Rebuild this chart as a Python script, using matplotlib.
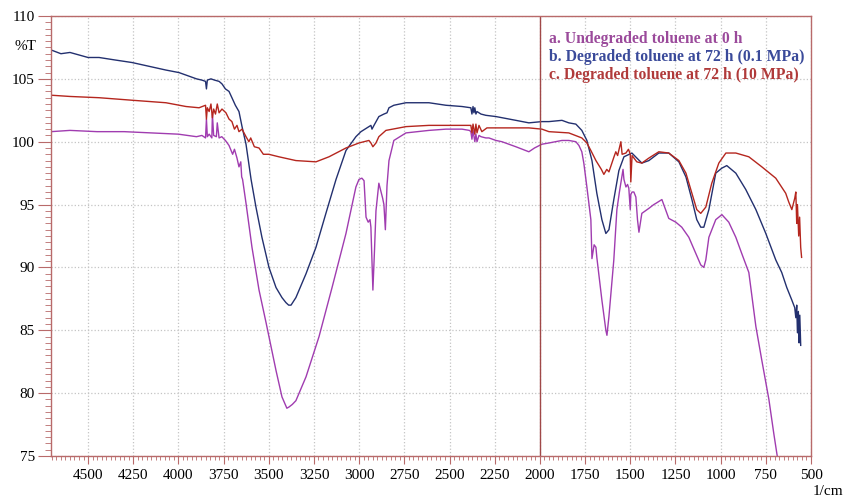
import matplotlib
matplotlib.use('Agg')
import matplotlib.pyplot as plt
from matplotlib.ticker import MultipleLocator

plt.rcParams['font.family'] = ['Liberation Serif', 'DejaVu Serif']

# a. undegraded toluene, 0 h
wn_a = [4705, 4600, 4450, 4300, 4150, 4000, 3950, 3900, 3870, 3850, 3845, 3840, 3830, 3815,
        3812, 3805, 3790, 3785, 3775, 3760, 3740, 3720, 3700, 3690, 3676, 3665, 3655, 3650,
        3645, 3626, 3593, 3554, 3515, 3460, 3427, 3400, 3388, 3370, 3350, 3294, 3222, 3150,
        3073, 3018, 3001, 2985, 2973, 2962, 2950, 2940, 2935, 2924, 2915, 2907, 2891, 2879,
        2870, 2863, 2855, 2846, 2835, 2808, 2741, 2614, 2520, 2431, 2390, 2382, 2376, 2370,
        2360, 2354, 2348, 2337, 2326, 2299, 2282, 2243, 2210, 2133, 2061, 2030, 1989, 1950,
        1878, 1840, 1801, 1784, 1768, 1757, 1740, 1718, 1712, 1700, 1690, 1685, 1657, 1635,
        1629, 1618, 1591, 1574, 1560, 1552, 1540, 1535, 1524, 1515, 1508, 1500, 1497, 1490,
        1480, 1469, 1460, 1452, 1436, 1397, 1370, 1358, 1325, 1300, 1287, 1248, 1215, 1176,
        1137, 1110, 1093, 1082, 1065, 1027, 993, 955, 916, 883, 844, 805, 772, 733, 706, 689, 670]
t_a = [100.8, 100.9, 100.8, 100.8, 100.7, 100.6, 100.5, 100.4, 100.5, 100.3, 101.8, 100.4, 100.6, 100.3,
       102.2, 100.5, 100.4, 101.5, 100.3, 100.4, 100.1, 99.7, 99.0, 99.4, 98.7, 98.0, 98.4, 97.2,
       97.0, 95.1, 91.6, 88.2, 85.6, 81.8, 79.7, 78.8, 78.9, 79.1, 79.4, 81.3, 84.5, 88.4,
       92.7, 96.4, 97.0, 97.1, 96.9, 94.0, 93.6, 93.8, 93.2, 88.2, 91.4, 94.5, 96.7, 96.0,
       95.5, 95.0, 93.0, 96.5, 98.5, 100.1, 100.7, 100.9, 101.0, 101.0, 100.9, 100.8, 100.2, 100.9,
       100.0, 100.6, 100.0, 100.5, 100.4, 100.3, 100.3, 100.1, 100.0, 99.6, 99.2, 99.5, 99.8, 99.9,
       100.1, 100.1, 100.0, 99.7, 99.2, 98.3, 96.4, 93.8, 90.7, 91.8, 91.6, 90.8, 87.4, 85.0,
       84.6, 86.1, 90.6, 94.6, 96.0, 96.7, 97.8, 97.0, 96.4, 96.6, 96.3, 94.6, 95.8, 96.0,
       96.0, 95.6, 93.8, 92.8, 94.3, 94.7, 95.0, 95.1, 95.4, 94.4, 93.9, 93.6, 93.2, 92.4,
       91.1, 90.2, 90.0, 90.6, 92.4, 93.8, 94.2, 93.6, 92.4, 91.1, 89.6, 85.3, 82.6, 79.5, 76.8, 75.2, 73.5]

# b. degraded toluene, 72 h (0.1 MPa)
wn_b = [4705, 4650, 4600, 4500, 4439, 4350, 4257, 4163, 4069, 3997, 3958, 3900, 3870, 3850,
        3845, 3840, 3820, 3800, 3775, 3759, 3740, 3720, 3704, 3685, 3665, 3648, 3626, 3598,
        3571, 3538, 3499, 3460, 3427, 3405, 3390, 3377, 3350, 3294, 3239, 3184, 3128, 3073,
        3018, 2990, 2946, 2935, 2929, 2918, 2891, 2863, 2846, 2835, 2808, 2741, 2614, 2520,
        2431, 2382, 2376, 2370, 2365, 2360, 2354, 2348, 2337, 2326, 2299, 2243, 2133, 2061,
        1989, 1950, 1878, 1840, 1801, 1768, 1740, 1712, 1685, 1657, 1635, 1618, 1591, 1563,
        1535, 1491, 1436, 1397, 1342, 1287, 1231, 1192, 1159, 1132, 1110, 1093, 1065, 1027,
        993, 966, 916, 861, 805, 750, 695, 662, 634, 606, 590, 584, 579, 575, 570, 566, 562, 557]
t_b = [107.3, 107.0, 107.1, 106.7, 106.7, 106.5, 106.3, 106.0, 105.7, 105.5, 105.3, 105.0, 104.9, 104.8,
       104.2, 104.9, 105.0, 104.9, 104.8, 104.6, 104.2, 104.0, 103.5, 102.9, 102.4, 101.2, 99.8, 97.0,
       94.8, 92.4, 90.0, 88.4, 87.6, 87.2, 87.0, 87.0, 87.6, 89.5, 91.6, 94.3, 97.0, 99.3,
       100.4, 100.8, 101.2, 101.3, 101.0, 101.3, 102.0, 102.2, 102.3, 102.7, 102.9, 103.1, 103.1, 102.9,
       102.8, 102.7, 102.2, 102.8, 102.3, 102.7, 102.2, 102.4, 102.3, 102.2, 102.1, 102.0, 101.7, 101.5,
       101.6, 101.6, 101.7, 101.5, 101.4, 100.9, 100.1, 98.5, 95.9, 93.8, 92.7, 93.0, 95.4, 97.7,
       98.8, 99.1, 98.3, 98.5, 99.1, 99.1, 98.4, 97.2, 95.4, 93.8, 93.2, 93.2, 94.6, 97.5,
       97.9, 98.1, 97.5, 96.2, 94.6, 92.7, 90.6, 89.6, 88.4, 87.4, 86.8, 86.0, 87.0, 84.8, 86.5, 84.0, 86.2, 83.8]

# c. degraded toluene, 72 h (10 MPa)
wn_c = [4705, 4600, 4439, 4257, 4069, 3958, 3886, 3850, 3845, 3840, 3830, 3820, 3812, 3805,
        3795, 3785, 3775, 3759, 3737, 3720, 3704, 3690, 3676, 3665, 3648, 3626, 3610, 3600,
        3580, 3554, 3530, 3500, 3444, 3350, 3239, 3167, 3073, 3001, 2946, 2935, 2924, 2907,
        2891, 2852, 2741, 2614, 2431, 2382, 2376, 2370, 2360, 2354, 2348, 2337, 2321, 2293,
        2243, 2061, 1989, 1950, 1840, 1768, 1740, 1718, 1690, 1660, 1646, 1630, 1618, 1590,
        1580, 1570, 1552, 1545, 1524, 1510, 1500, 1497, 1490, 1464, 1436, 1397, 1342, 1287,
        1231, 1192, 1159, 1132, 1110, 1082, 1049, 1010, 971, 916, 844, 772, 695, 640,
        623, 606, 590, 584, 579, 575, 568, 563, 557, 552]
t_c = [103.7, 103.6, 103.5, 103.3, 103.1, 102.8, 102.7, 102.9, 101.8, 102.7, 102.4, 103.0, 101.9, 102.6,
       102.2, 103.0, 102.3, 102.6, 102.3, 101.8, 101.6, 101.0, 101.3, 100.8, 101.0, 100.4, 100.0, 100.3,
       99.6, 99.5, 99.0, 99.0, 98.8, 98.5, 98.4, 98.8, 99.5, 99.9, 100.1, 99.9, 99.6, 99.9,
       100.4, 100.9, 101.2, 101.3, 101.3, 101.3, 100.7, 101.4, 100.6, 101.4, 100.7, 101.3, 100.8, 101.1,
       101.1, 101.1, 101.0, 100.8, 100.7, 100.3, 99.9, 99.3, 98.5, 97.8, 97.4, 97.8, 97.6, 98.8,
       99.2, 98.9, 100.0, 99.0, 99.1, 99.4, 99.0, 96.8, 98.9, 98.4, 98.3, 98.7, 99.2, 99.1,
       98.5, 97.5, 95.9, 94.6, 94.3, 94.8, 96.7, 98.3, 99.1, 99.1, 98.8, 98.0, 97.1, 95.9,
       95.2, 94.6, 95.5, 96.0, 93.5, 95.0, 92.5, 94.0, 91.6, 90.8]

labels = ['a. Undegraded toluene at 0 h',
          'b. Degraded toluene at 72 h (0.1 MPa)',
          'c. Degraded toluene at 72 h (10 MPa)']
line_colors = ['#a03cb0', '#23306f', '#b5261e']
text_colors = ['#9b4a9b', '#3a4a9a', '#b03a3a']
frame = '#b86a6a'

fig = plt.figure(figsize=(8.45, 4.98), dpi=100)
ax = fig.add_axes([51 / 845, 42 / 498, 760 / 845, 440 / 498])

ax.plot(wn_a, t_a, color=line_colors[0], lw=1.0)
ax.plot(wn_b, t_b, color=line_colors[1], lw=1.0)
ax.plot(wn_c, t_c, color=line_colors[2], lw=1.0)

ax.axvline(2000, color='#a04848', lw=1.0)

ax.set_xlim(4705, 500)
ax.set_ylim(75, 110)
ax.set_xticks([500 + 250 * i for i in range(17)])
ax.set_yticks([75, 80, 85, 90, 95, 100, 105, 110])
ax.xaxis.set_minor_locator(MultipleLocator(25))
ax.yaxis.set_minor_locator(MultipleLocator(0.5))

ax.grid(True, which='major', color='#c4c4c4', ls=':', lw=0.9)
for s in ax.spines.values():
    s.set_color(frame)
    s.set_linewidth(1.0)
ax.tick_params(which='both', direction='out', color=frame, labelsize=11)
ax.tick_params(axis='x', which='major', length=6, pad=3)
ax.tick_params(axis='x', which='minor', length=3)
ax.tick_params(axis='y', which='major', length=9.5, pad=2)
ax.tick_params(axis='y', which='minor', length=4)

fig.text(36 / 845, 1 - 47 / 498, '%T', ha='right', va='center', fontsize=11)
fig.text(843 / 845, 1 - 491 / 498, '1/cm', ha='right', va='center', fontsize=11)

for i, lab in enumerate(labels):
    ax.text(0.655, 0.948 - 0.0405 * i, lab, transform=ax.transAxes, color=text_colors[i],
            fontsize=11.3, fontweight='bold', ha='left', va='center')

fig.savefig('out.png', dpi=100)
